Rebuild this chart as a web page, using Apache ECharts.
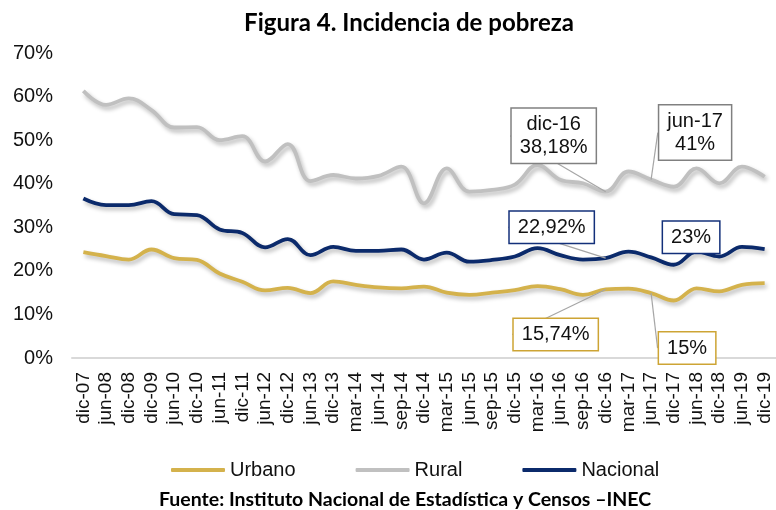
<!DOCTYPE html>
<html>
<head>
<meta charset="utf-8">
<script src="https://cdn.jsdelivr.net/npm/echarts@6/dist/echarts.min.js"></script>
<style>
  html, body { margin: 0; padding: 0; background: #fff; }
  #chart { width: 776px; height: 510px; }
</style>
</head>
<body>
<div id="chart"></div>
<script>
// periodos de la ENEMDU
var categories = ['dic-07', 'jun-08', 'dic-08', 'dic-09', 'jun-10', 'dic-10', 'jun-11', 'dic-11',
  'jun-12', 'dic-12', 'jun-13', 'dic-13', 'mar-14', 'jun-14', 'sep-14', 'dic-14', 'mar-15',
  'jun-15', 'sep-15', 'dic-15', 'mar-16', 'jun-16', 'sep-16', 'dic-16', 'mar-17', 'jun-17',
  'dic-17', 'jun-18', 'dic-18', 'jun-19', 'dic-19'];

var urbano = [24.3, 23.4, 22.6, 24.9, 22.9, 22.5, 19.4, 17.5, 15.5, 16.1, 14.9, 17.6, 16.8, 16.2,
  16.0, 16.4, 15.0, 14.5, 15.0, 15.6, 16.5, 15.8, 14.5, 15.74, 15.9, 14.9, 13.2, 16.0, 15.3, 16.8, 17.2];

var rural = [61.3, 58.1, 59.6, 56.9, 52.9, 53.0, 50.0, 50.9, 45.1, 49.1, 40.6, 42.0, 41.2, 41.8,
  43.9, 35.5, 43.5, 38.2, 38.6, 39.8, 44.3, 40.9, 40.1, 38.18, 42.8, 40.95, 39.3, 43.5, 40.1, 43.9, 41.6];

var nacional = [36.6, 35.1, 35.1, 36.0, 33.0, 32.8, 29.5, 28.7, 25.4, 27.3, 23.6, 25.5, 24.6, 24.6,
  24.9, 22.6, 24.2, 22.1, 22.5, 23.3, 25.2, 23.6, 22.6, 22.92, 24.4, 23.1, 21.4, 24.4, 23.3, 25.5, 25.0];

var yTicks = [0, 10, 20, 30, 40, 50, 60, 70];

// cuadros de texto señalados en el gráfico (serie, periodo, decimales, mostrar periodo)
var notes = [
  { serie: 'Rural', period: 'dic-16', dec: 2, withCat: true, line: true },
  { serie: 'Rural', period: 'jun-17', dec: 0, withCat: true, line: true },
  { serie: 'Nacional', period: 'dic-16', dec: 2, withCat: false, line: true },
  { serie: 'Nacional', period: 'jun-17', dec: 0, withCat: false, line: false },
  { serie: 'Urbano', period: 'dic-16', dec: 2, withCat: false, line: true },
  { serie: 'Urbano', period: 'jun-17', dec: 0, withCat: false, line: true }
];

// desplazamiento de cada cuadro respecto a su punto (px)
var noteOffsets = {
  'Rural|dic-16': [-52, -56],
  'Rural|jun-17': [44, -47],
  'Nacional|dic-16': [-54, -31],
  'Nacional|jun-17': [40, -20],
  'Urbano|dic-16': [-50, 45],
  'Urbano|jun-17': [36, 55]
};

var colors = { Urbano: '#D4B24C', Rural: '#C0C0C0', Nacional: '#0B2A6B' };
var boxBorders = { Urbano: '#CDA434', Rural: '#808080', Nacional: '#13307A' };

function fmt(v, dec) {
  return v.toFixed(dec).replace('.', ',') + '%';
}

function buildData(name, values) {
  return values.map(function (v, i) {
    var note = notes.find(function (n) { return n.serie === name && n.period === categories[i]; });
    if (!note) return v;
    var txt = fmt(v, note.dec);
    if (note.withCat) txt = categories[i] + '\n' + txt;
    return {
      value: v,
      label: {
        show: true,
        position: 'inside',
        formatter: txt,
        fontFamily: 'Liberation Sans',
        fontSize: 20,
        lineHeight: 23,
        color: '#111',
        backgroundColor: '#fff',
        borderColor: boxBorders[name],
        borderWidth: 1.5,
        padding: [4, 8, 4, 8]
      },
      labelLine: { show: note.line }
    };
  });
}

function makeSeries(name, values) {
  return {
    name: name,
    type: 'line',
    smooth: 0.4,
    symbol: 'circle',
    symbolSize: 0,
    showSymbol: true,
    data: buildData(name, values),
    lineStyle: {
      color: colors[name],
      width: 3.8,
      shadowColor: 'rgba(0,0,0,0.28)',
      shadowBlur: 4,
      shadowOffsetX: 2,
      shadowOffsetY: 3
    },
    itemStyle: { color: colors[name] },
    labelLine: {
      show: true,
      lineStyle: { color: '#A6A6A6', width: 1.2 }
    },
    labelLayout: function (params) {
      var off = noteOffsets[name + '|' + categories[params.dataIndex]];
      if (!off) return {};
      return { dx: off[0], dy: off[1] };
    },
    emphasis: { disabled: true }
  };
}

var chart = echarts.init(document.getElementById('chart'));
chart.setOption({
  animation: false,
  title: [{
    text: 'Figura 4. Incidencia de pobreza',
    left: 404,
    textAlign: 'center',
    top: 6,
    textStyle: { fontFamily: 'Lato', fontWeight: 'bold', fontSize: 24, color: '#000' }
  }, {
    text: 'Fuente: Instituto Nacional de Estadística y Censos –INEC',
    left: 400,
    textAlign: 'center',
    top: 485,
    textStyle: { fontFamily: 'Lato', fontWeight: 'bold', fontSize: 19.5, color: '#000' }
  }],
  legend: {
    data: ['Urbano', 'Rural', 'Nacional'],
    left: 166,
    top: 455,
    itemWidth: 54,
    itemHeight: 4,
    itemGap: 60,
    icon: 'roundRect',
    textStyle: { fontFamily: 'Liberation Sans', fontSize: 20, color: '#111' }
  },
  grid: { left: 72, right: 0, top: 53, bottom: 152, containLabel: false },
  xAxis: {
    type: 'category',
    data: categories,
    boundaryGap: true,
    axisLine: { lineStyle: { color: '#D9D9D9', width: 2 } },
    axisTick: { show: false },
    axisLabel: {
      interval: 0,
      rotate: 90,
      margin: 14,
      fontFamily: 'Liberation Sans',
      fontSize: 19,
      color: '#111'
    }
  },
  yAxis: {
    type: 'value',
    min: yTicks[0],
    max: yTicks[yTicks.length - 1],
    interval: 10,
    axisLine: { show: false },
    axisTick: { show: false },
    splitLine: { show: false },
    axisLabel: {
      formatter: '{value}%',
      margin: 19,
      fontFamily: 'Liberation Sans',
      fontSize: 20,
      color: '#111'
    }
  },
  series: [
    makeSeries('Rural', rural),
    makeSeries('Nacional', nacional),
    makeSeries('Urbano', urbano)
  ]
});
</script>
</body>
</html>
